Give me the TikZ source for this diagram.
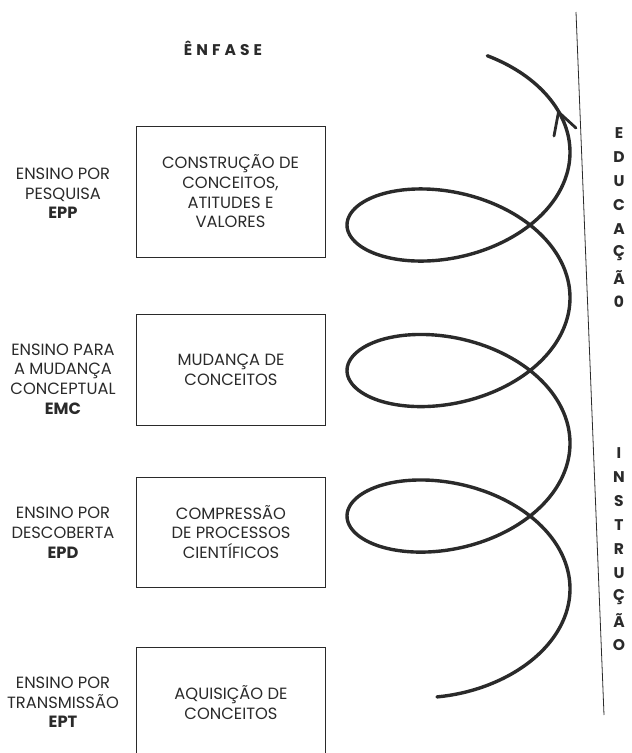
\documentclass[tikz,border=0pt]{standalone}
\usepackage{fontspec}
\setmainfont{Poppins}
\newfontfamily\spacedfont[LetterSpace=26]{Poppins}
\definecolor{ink}{HTML}{2A2A2A}
\begin{document}
\begin{tikzpicture}[x=1pt,y=-1pt,
  txt/.style={font=\fontsize{16.3}{19.7}\selectfont, align=center, text=ink, inner sep=0pt},
  boxnode/.style={txt, draw=ink, line width=0.9pt, minimum width=189pt},
  lettr/.style={font=\bfseries\fontsize{15.5}{15.5}\selectfont, text=ink, inner sep=0pt},
  spiral/.style={draw=ink, line width=3.4pt, line cap=round, line join=round},
  divider/.style={draw=ink, line width=0.8pt}]
\useasboundingbox (0,0) rectangle (632,753);
\clip (0,0) rectangle (632,753);

% title
\node[font=\spacedfont\bfseries\fontsize{15.5}{15.5}\selectfont, text=ink, inner sep=0pt] (title) at (223,48) {ÊNFASE};

% boxes
\node[boxnode, minimum height=131pt] (b1) at (230.5,191.5) {CONSTRUÇÃO DE\\CONCEITOS,\\ATITUDES E\\VALORES};
\node[boxnode, minimum height=111pt] (b2) at (231,369.5) {MUDANÇA DE\\CONCEITOS};
\node[boxnode, minimum height=110pt] (b3) at (231,532) {COMPRESSÃO\\DE PROCESSOS\\CIENTÍFICOS};
\node[boxnode, minimum height=111pt] (b4) at (231,702.5) {AQUISIÇÃO DE\\CONCEITOS};

% left labels
\node[txt] (l1) at (63,193.5) {ENSINO POR\\PESQUISA\\\textbf{EPP}};
\node[txt] (l2) at (63,379) {ENSINO PARA\\A MUDANÇA\\CONCEPTUAL\\\textbf{EMC}};
\node[txt] (l3) at (63,532.7) {ENSINO POR\\DESCOBERTA\\\textbf{EPD}};
\node[txt] (l4) at (63,702.5) {ENSINO POR\\TRANSMISSÃO\\\textbf{EPT}};

% divider line
\coordinate (ltop) at (576,12);
\coordinate (lbot) at (604,715);
\draw[divider] (ltop) -- (lbot);

% vertical words
\foreach \c [count=\i from 0] in {E,D,U,C,A,Ç,Ã,0}
  \node[lettr] (ed\i) at (619,{133+24.1*\i}) {\c};
\foreach \c [count=\i from 0] in {I,N,S,T,R,U,Ç,Ã,O}
  \node[lettr] (in\i) at (619,{453+24*\i}) {\c};

% spiral
\draw[spiral] plot[domain=-1.765:20.162, samples=400, smooth, variable=\t]
  ({458.5+111.5*cos(\t r)}, {588.8-23.16*\t-68.5*sin(\t r)});
\coordinate (tip) at (558.5,112);
\coordinate (barbR) at (576,128);
\coordinate (barbL) at (554,136);
\draw[spiral, line width=2.8pt] (barbR) -- (tip) -- (barbL);
\end{tikzpicture}
\end{document}
